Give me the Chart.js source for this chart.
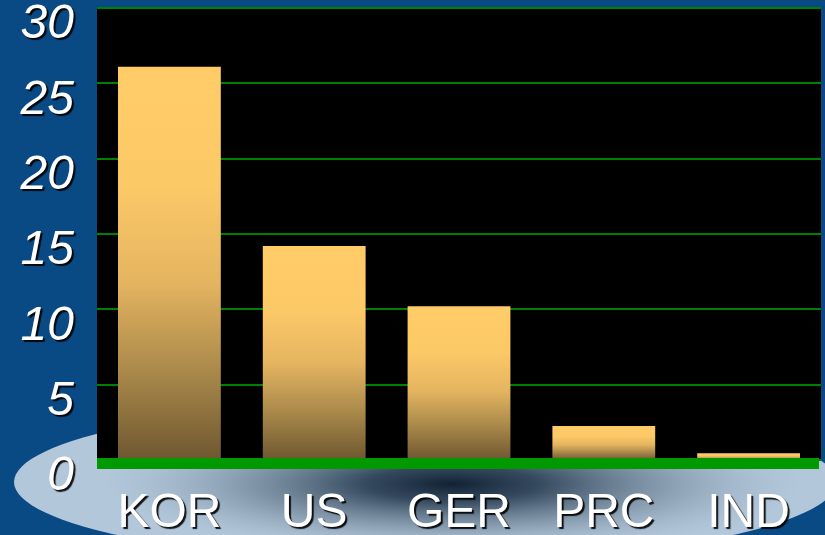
<!DOCTYPE html>
<html><head><meta charset="utf-8">
<script src="https://cdn.jsdelivr.net/npm/chart.js@4/dist/chart.umd.min.js"></script>
<style>html,body{margin:0;padding:0;background:#0a4a84;overflow:hidden}</style>
</head><body>
<canvas id="c" width="825" height="535"></canvas>
<script>
const categories = ['KOR', 'US', 'GER', 'PRC', 'IND'];
const values = [26.1, 14.2, 10.2, 2.25, 0.45];
const yMin = 0, yMax = 30, yStep = 5;

const shadowPatch = {
  id: 'shadowPatch',
  beforeDraw(chart) {
    Object.values(chart.scales).forEach(s => {
      if (s._patched) return;
      const orig = s.drawLabels.bind(s);
      s.drawLabels = function (area) {
        const c = chart.ctx;
        c.save();
        c.shadowColor = 'rgba(0,0,0,0.9)';
        c.shadowOffsetX = 2;
        c.shadowOffsetY = 2;
        c.shadowBlur = 1;
        orig(area);
        c.restore();
      };
      s._patched = true;
    });
  }
};

const backdrop = {
  id: 'backdrop',
  beforeDraw(chart) {
    const c = chart.ctx, W = chart.width, H = chart.height, a = chart.chartArea;
    c.save();
    c.fillStyle = '#0a4a84';
    c.fillRect(0, 0, W, H);
    c.beginPath();
    c.ellipse(425, 482, 411, 80, 0, 0, Math.PI * 2);
    c.fillStyle = '#b3c7da';
    c.fill();
    c.clip();
    c.save();
    c.translate(452, 484);
    c.scale(1, 0.2);
    const g = c.createRadialGradient(0, 0, 0, 0, 0, 350);
    g.addColorStop(0, 'rgba(18,34,52,1)');
    g.addColorStop(0.25, 'rgba(40,60,82,0.9)');
    g.addColorStop(0.6, 'rgba(90,110,130,0.5)');
    g.addColorStop(1, 'rgba(150,170,190,0)');
    c.fillStyle = g;
    c.fillRect(-500, -600, 1000, 1200);
    c.restore();
    c.restore();
    c.fillStyle = '#000000';
    c.fillRect(a.left, a.top, a.right - a.left, a.bottom - a.top);
  }
};

const baseline = {
  id: 'baseline',
  afterDatasetsDraw(chart) {
    const c = chart.ctx, a = chart.chartArea;
    const y0 = chart.scales.y.getPixelForValue(0);
    c.save();
    c.fillStyle = '#009900';
    c.fillRect(a.left, y0 - 2, a.right - a.left - 2, 11);
    c.restore();
  }
};

new Chart(document.getElementById('c'), {
  type: 'bar',
  data: {
    labels: categories,
    datasets: [{
      data: values,
      borderWidth: 0,
      categoryPercentage: 1,
      barPercentage: 0.71,
      backgroundColor: (ctx) => {
        const chart = ctx.chart;
        if (!chart.chartArea || ctx.type !== 'data') return '#ffcc66';
        const ys = chart.scales.y;
        const top = ys.getPixelForValue(ctx.raw);
        const bot = ys.getPixelForValue(0);
        if (!isFinite(top) || bot - top < 1) return '#ffcc66';
        const g = chart.ctx.createLinearGradient(0, top, 0, bot);
        g.addColorStop(0, '#ffcc68');
        g.addColorStop(0.3, '#fcc967');
        g.addColorStop(0.55, '#e4b460');
        g.addColorStop(0.75, '#b08e4d');
        g.addColorStop(1, '#6e5730');
        return g;
      }
    }]
  },
  options: {
    responsive: false,
    animation: false,
    layout: { padding: { top: 8, right: 4, left: 0, bottom: 0 } },
    plugins: { legend: { display: false }, tooltip: { enabled: false } },
    scales: {
      y: {
        min: yMin, max: yMax,
        ticks: {
          stepSize: yStep,
          color: '#ffffff',
          font: { family: 'Liberation Sans', size: 48, style: 'italic' },
          padding: 23,
          labelOffset: 17
        },
        grid: { color: '#008000', lineWidth: 2, drawTicks: false },
        border: { display: false },
        afterFit(s) { s.width = 97; s.paddingTop = 0; s.paddingBottom = 0; }
      },
      x: {
        ticks: {
          color: '#ffffff',
          font: { family: 'Liberation Sans', size: 48 },
          padding: 25
        },
        grid: { display: false, drawTicks: false },
        border: { display: false },
        afterFit(s) { s.height = 75; s.paddingLeft = 0; s.paddingRight = 0; }
      }
    }
  },
  plugins: [backdrop, shadowPatch, baseline]
});
</script>
</body></html>
